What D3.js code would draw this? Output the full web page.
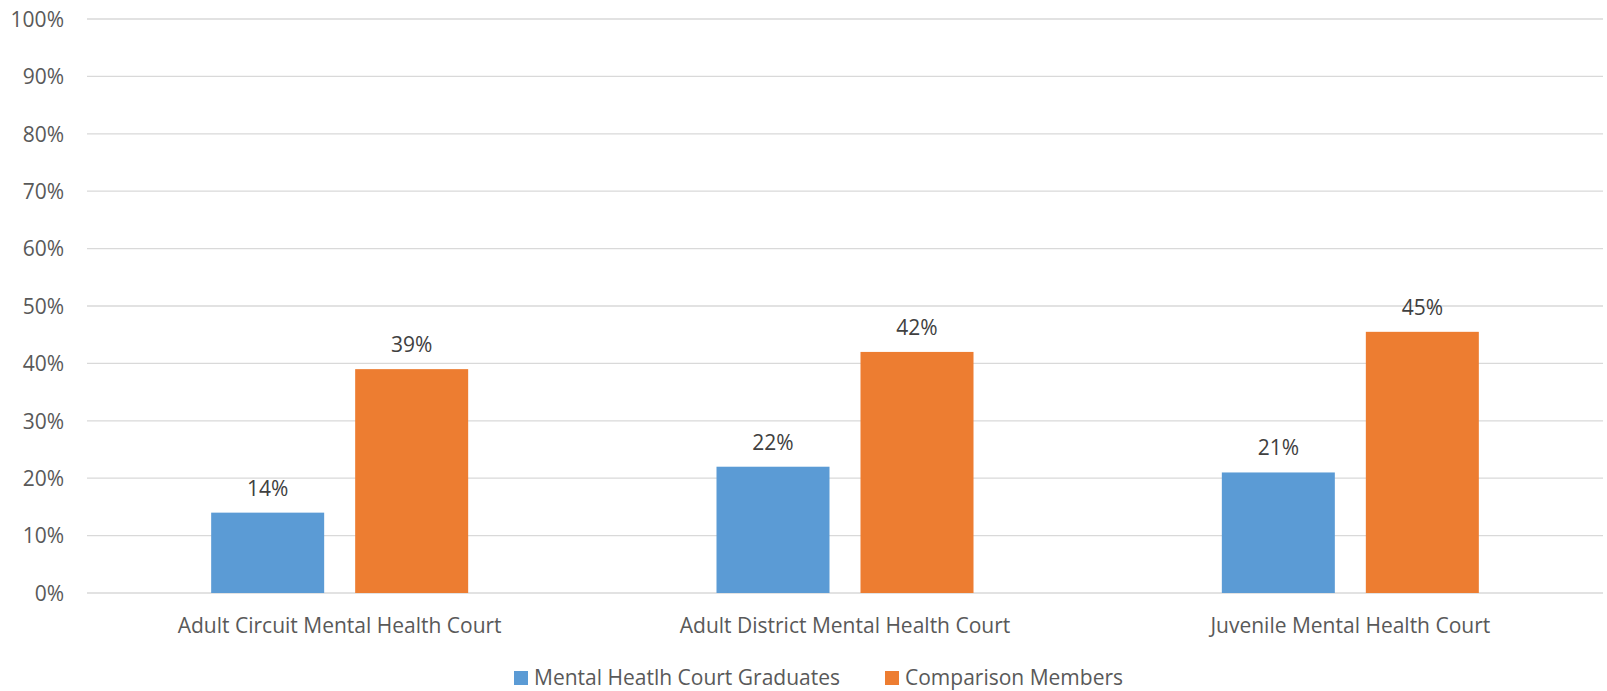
<!DOCTYPE html>
<html><head><meta charset="utf-8">
<script src="https://cdn.jsdelivr.net/npm/d3@7"></script>
<style>body{margin:0;background:#fff;} svg{display:block;font-family:"Open Sans",sans-serif;}</style>
</head><body>
<svg id="chart" width="1607" height="691"></svg>
<script>
const categories = ["Adult Circuit Mental Health Court", "Adult District Mental Health Court", "Juvenile Mental Health Court"];
const seriesNames = ["Mental Heatlh Court Graduates", "Comparison Members"];
const graduates = [0.14, 0.22, 0.21];
const comparison = [0.39, 0.42, 0.455];
const graduateLabels = ["14%", "22%", "21%"];
const comparisonLabels = ["39%", "42%", "45%"];
const yTicks = [0, 0.1, 0.2, 0.3, 0.4, 0.5, 0.6, 0.7, 0.8, 0.9, 1.0];
const colors = ["#5b9bd5", "#ed7d31"];

(function () {
const FS = "21px";
const svg = d3.select("#chart");
const plotLeft = 87, plotRight = 1603, plotTop = 19, plotBottom = 593;
const x = d3.scaleBand().domain(categories).range([plotLeft, plotRight]).paddingInner(0).paddingOuter(0);
const y = d3.scaleLinear().domain([0, 1]).range([plotBottom, plotTop]);

// gridlines
svg.append("g").selectAll("line").data(yTicks).join("line")
  .attr("x1", plotLeft).attr("x2", plotRight)
  .attr("y1", d => y(d)).attr("y2", d => y(d))
  .attr("stroke", "#d9d9d9").attr("stroke-width", 1.3);

// y axis labels
const yAxis = d3.axisLeft(y).tickValues(yTicks).tickFormat(d3.format(".0%")).tickSize(0).tickPadding(0);
const ga = svg.append("g").attr("transform", "translate(64,0)").call(yAxis);
ga.select(".domain").remove();
ga.selectAll("text").attr("fill", "#595959").style("font-size", FS).style("font-family", "'Open Sans',sans-serif").attr("dy", "0.35em");

const barW = 113, gap = 31;
const data = categories.map((c, i) => ({c, vals: [graduates[i], comparison[i]], labels: [graduateLabels[i], comparisonLabels[i]]}));

data.forEach(d => {
  const cx = x(d.c) + x.bandwidth() / 2;
  d.vals.forEach((v, j) => {
    const bx = j === 0 ? cx - gap / 2 - barW : cx + gap / 2;
    svg.append("rect").attr("x", bx).attr("width", barW)
      .attr("y", y(v)).attr("height", y(0) - y(v)).attr("fill", colors[j]);
    svg.append("text").attr("x", bx + barW / 2).attr("y", y(v) - 17)
      .attr("text-anchor", "middle").attr("fill", "#404040").style("font-size", FS).text(d.labels[j]);
  });
});

// x axis category labels
const xAxis = d3.axisBottom(x).tickSize(0).tickPadding(0);
const gx = svg.append("g").attr("transform", `translate(0,${plotBottom})`).call(xAxis);
gx.select(".domain").remove();
gx.selectAll("text").attr("fill", "#595959").style("font-size", FS).style("font-family", "'Open Sans',sans-serif").attr("y", 40).attr("dy", 0);

// legend
const legendX = [514, 885];
const lg = svg.append("g");
seriesNames.forEach((s, i) => {
  lg.append("rect").attr("x", legendX[i]).attr("y", 671).attr("width", 14).attr("height", 14).attr("fill", colors[i]);
  lg.append("text").attr("x", legendX[i] + 20).attr("y", 685).attr("fill", "#595959").style("font-size", FS).text(s);
});
})();
</script>
</body></html>
